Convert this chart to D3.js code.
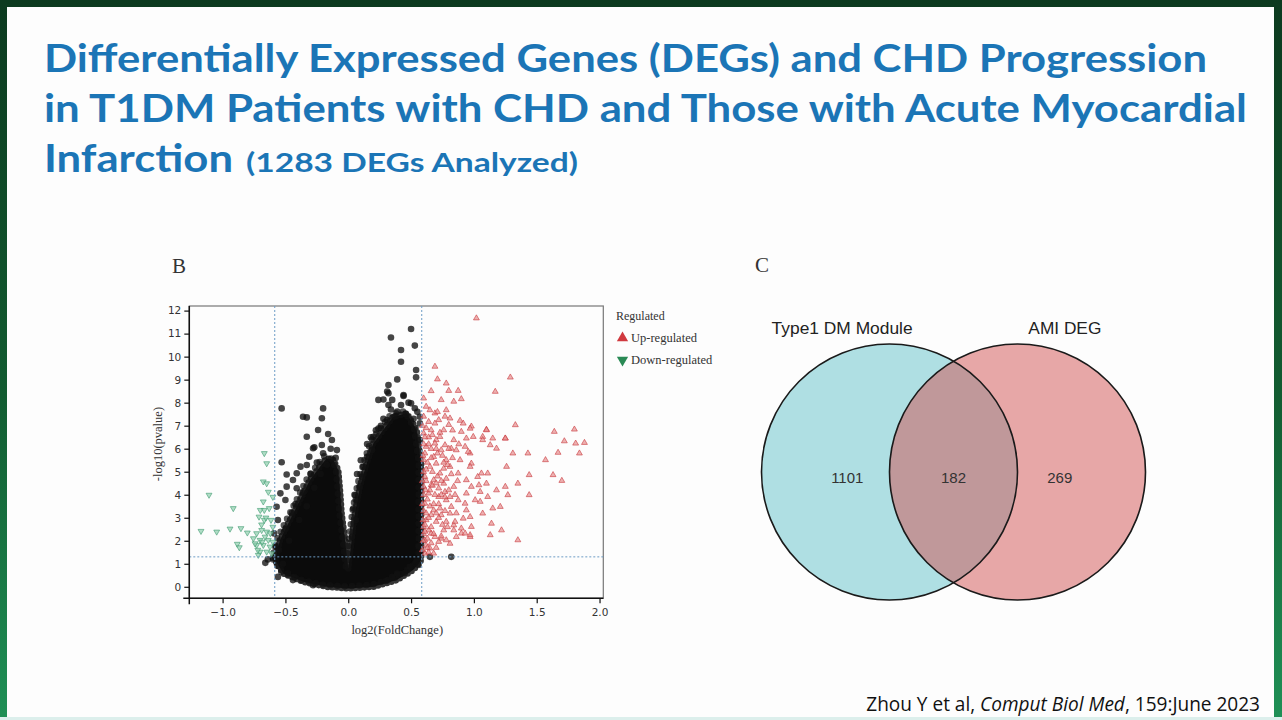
<!DOCTYPE html>
<html>
<head>
<meta charset="utf-8">
<script src="https://cdn.jsdelivr.net/npm/d3@7"></script>
<style>
  body { margin: 0; background: #fff; }
  svg { display: block; }
</style>
</head>
<body>
<svg id="slide" width="1282" height="720"></svg>
<script>
// ---- data ----
var titleLines = [
  "Differentially Expressed Genes (DEGs) and CHD Progression",
  "in T1DM Patients with CHD and Those with Acute Myocardial",
  "Infarction"
];
var titleNote = "(1283 DEGs Analyzed)";

var xTicks = [-1.0, -0.5, 0.0, 0.5, 1.0, 1.5, 2.0];
var yTicks = [0, 1, 2, 3, 4, 5, 6, 7, 8, 9, 10, 11, 12];
var fcCut = 0.585,   // log2(1.5)
    pCut = 1.3;      // -log10(0.05)

// dense non-significant core (log2FC, -log10 p)
var blackCore = [[0.00,0.80],[-0.026,2.03],[-0.053,3.19],[-0.066,4.20],[-0.080,5.07],[-0.119,5.51],
  [-0.172,5.58],[-0.225,5.22],[-0.305,4.64],[-0.384,3.77],[-0.464,2.90],[-0.543,2.03],[-0.583,1.16],
  [-0.517,0.58],[-0.358,0.22],[-0.172,0.0],[0.0,-0.07],[0.199,0.0],[0.385,0.29],[0.517,0.73],
  [0.58,1.16],[0.58,3.19],[0.58,5.36],[0.544,6.81],[0.465,7.54],[0.358,7.39],[0.278,6.81],
  [0.199,6.23],[0.146,5.36],[0.093,4.35],[0.053,3.19],[0.027,2.03],[0.008,1.16]];

var blackPts = [[0.50,11.20],[0.34,10.83],[0.53,10.48],[0.42,10.29],[0.42,9.78],[0.54,9.42],[0.54,9.10],
  [0.39,9.01],[0.32,8.77],[0.31,8.48],[0.24,8.12],[0.28,8.14],[0.44,8.29],[0.32,8.41],[0.35,8.12],
  [0.44,8.33],[0.32,7.90],[0.39,7.61],[0.50,7.97],[0.53,7.76],[0.31,7.25],[0.24,6.88],[0.20,6.52],
  [0.15,5.65],[0.19,5.94],[0.11,4.78],[0.09,4.35],[0.12,5.22],[0.06,3.77],[0.06,2.90],[0.03,2.17],
  [0.57,7.39],[0.57,6.38],
  [-0.53,7.75],[-0.20,7.75],[-0.21,7.32],[-0.36,7.39],[-0.33,7.36],[-0.24,6.81],[-0.33,6.52],
  [-0.16,6.64],[-0.13,6.38],[-0.28,6.02],[-0.21,6.16],[-0.09,5.94],[-0.31,5.65],[-0.27,6.06],
  [-0.53,5.41],[-0.38,5.22],[-0.33,5.29],[-0.49,4.88],[-0.41,4.93],[-0.44,4.64],[-0.49,4.35],
  [-0.54,4.06],[-0.41,4.28],[-0.57,3.48],[-0.50,3.77],[-0.56,2.90],[-0.59,2.32],[-0.58,1.74],
  [-0.66,1.04],[-0.64,1.19],[-0.60,1.25],[-0.56,0.43],[-0.44,0.29],[-0.28,0.07],
  [0.65,1.30],[0.82,1.30],[0.53,1.01],[0.39,0.51],[0.35,0.43],[0.39,0.58],[0.49,0.87],[0.54,1.09],
  [0.57,1.45],[0.56,1.74],
  [-0.45,3.2],[-0.50,2.5],[-0.42,3.6],[-0.36,4.1],[-0.30,4.9],[-0.25,5.4],[-0.20,5.8],[-0.14,6.0],
  [-0.55,1.6],[-0.52,1.0],[-0.48,0.6],[-0.47,2.0],[-0.39,2.9],[-0.33,3.5],[-0.27,4.3],[-0.22,4.9],
  [-0.17,5.3],[-0.10,5.6],
  [0.15,6.2],[0.22,6.8],[0.28,7.3],[0.34,7.7],[0.42,7.9],[0.48,8.0],[0.55,7.6],[0.57,7.1],[0.10,5.5],
  [0.07,4.9],[0.05,4.0],[0.04,3.4],[0.58,2.0],[0.56,0.95],[0.45,0.6],[0.30,0.25],[0.18,6.5],
  [0.26,7.0],[0.37,7.4],[0.46,7.5],[0.52,7.3]];

var upPts = [[1.02,11.67],[0.69,9.57],[0.71,9.02],[1.29,9.10],[0.78,8.84],[0.66,8.51],[0.80,8.52],
  [0.875,8.52],[1.17,8.48],[0.90,8.16],[0.74,8.12],[0.84,8.05],[0.60,8.19],[0.78,7.68],[0.69,7.54],
  [0.62,7.83],[0.89,7.22],[0.98,6.97],[0.80,7.04],[1.33,7.03],[1.10,6.83],[1.15,6.45],[1.25,6.45],
  [1.64,6.74],[1.80,6.84],[1.72,6.33],[1.88,6.26],[1.81,6.23],[1.84,5.80],[1.67,5.83],[1.57,5.51],
  [1.43,5.80],[1.31,5.80],[1.26,5.22],[1.44,4.86],[1.63,4.86],[1.70,4.61],[1.35,4.49],[1.25,4.35],
  [1.27,3.99],[1.44,3.99],[1.35,2.03],[1.13,2.25],[1.22,2.46],[1.14,2.75],[1.07,3.19],[1.15,3.41],
  [1.05,3.70],[1.18,4.20],[1.10,4.49],[1.03,4.78],[1.11,4.93],[1.13,6.16],[1.07,6.52],[1.25,6.45],
  [1.18,6.01],[0.97,6.88],[1.10,6.81],[0.98,5.36],[0.97,5.80],[0.93,3.62],[0.97,3.04],[0.90,2.32],
  [0.97,2.17],[0.84,2.68],[0.81,1.88],[0.74,2.10],[0.68,1.45],
  [1.06,4.93],[1.04,4.42],[1.11,3.91],[1.01,3.77],[1.05,4.13],[1.21,3.48],[0.915,7.10],
  [0.97,5.22],[0.955,5.87],[0.93,6.09],[1.07,6.38],[0.995,6.52],[0.94,6.45],[0.90,6.74],[0.84,6.38],
  [0.86,5.94],[0.89,5.51],[0.81,5.22],[0.875,4.93],[0.94,4.64],[0.98,4.35],[0.94,4.06],[0.875,3.77],
  [0.94,3.33],[0.915,2.97],[0.85,2.83],[0.98,2.61],[0.93,2.32],[0.86,2.17],[0.97,2.25],[0.90,2.54],
  [0.81,3.19],[0.78,3.77],[0.84,4.35],[0.76,4.49],[0.73,4.93],[0.78,5.51],[0.74,5.94],[0.70,6.38],
  [0.66,6.81],[0.76,6.81],[0.72,7.25],[0.64,7.17],[0.81,7.32],[0.68,5.65],[0.62,6.09],[0.65,5.22],
  [0.61,4.78],[0.68,4.64],[0.64,4.06],[0.72,3.91],[0.61,3.62],[0.68,3.33],[0.62,2.90],[0.70,2.83],
  [0.76,2.46],[0.66,2.32],[0.61,2.03],[0.72,1.96],[0.65,1.67],[0.61,1.45],[0.78,2.03],[0.84,2.46],
  [0.73,3.41],[0.78,2.83],[0.60,6.67],[0.60,5.51],[0.60,4.35],[0.60,2.61],[0.69,6.23],[0.65,7.68],
  [0.73,6.52],[0.77,6.16],[0.82,6.01],[0.70,5.36],[0.76,5.14],[0.66,4.42],[0.72,4.28],[0.77,4.13],
  [0.81,3.91],[0.82,3.48],[0.66,3.12],[0.74,3.12],[0.64,2.46],[0.69,2.17],
  [0.60,7.4],[0.62,6.9],[0.64,6.5],[0.60,6.2],[0.66,6.0],[0.61,5.8],[0.63,5.4],[0.67,5.0],[0.60,5.0],
  [0.62,4.6],[0.65,4.2],[0.60,4.0],[0.63,3.8],[0.68,3.6],[0.60,3.3],[0.64,3.0],[0.61,2.7],[0.66,2.6],
  [0.60,2.3],[0.63,2.1],[0.62,1.8],[0.66,1.9],[0.70,4.5],[0.72,3.0],[0.71,5.8],[0.73,6.7],[0.69,7.1],
  [0.74,4.0],[0.68,2.3],[0.70,1.7],[0.64,1.5],[0.76,5.4],[0.78,4.7],[0.72,3.6],[0.80,6.0],[0.77,3.3],
  [0.79,2.6],[0.74,2.2],[0.82,4.9],[0.85,4.0],
  [0.59,7.0],[0.61,6.5],[0.595,5.7],[0.62,5.1],[0.59,4.6],[0.615,4.2],[0.59,3.6],[0.62,3.2],[0.595,2.9],
  [0.61,2.4],[0.595,2.0],[0.63,1.7],[0.59,1.6],[0.65,3.5],[0.67,4.4],[0.66,5.6],[0.64,6.2],[0.67,6.6],
  [0.70,3.2],[0.69,4.0],[0.71,4.8],[0.70,6.0],[0.75,5.7],[0.74,4.6],[0.77,3.9],[0.75,2.7],[0.80,4.2],
  [0.79,5.3],[0.83,5.6],[0.87,4.6],[0.86,3.2],[0.88,6.2],[0.83,6.8],[0.77,7.4],[0.71,7.6]];

var downPts = [[-0.668,5.80],[-0.649,5.36],[-1.108,3.99],[-0.915,3.41],[-1.172,2.42],[-1.047,2.39],
  [-0.941,2.52],[-0.854,2.54],[-0.803,2.35],[-0.883,1.86],[-0.867,1.71],
  [-0.676,4.57],[-0.649,4.49],[-0.636,4.12],[-0.676,3.70],[-0.70,3.33],[-0.668,3.33],[-0.629,3.41],
  [-0.71,3.04],[-0.668,2.90],[-0.615,2.90],[-0.689,2.46],[-0.729,2.32],[-0.649,2.39],[-0.755,2.10],
  [-0.702,2.03],[-0.636,2.03],[-0.729,1.81],[-0.676,1.81],[-0.623,1.74],[-0.702,1.52],[-0.649,1.52],
  [-0.716,1.38],[-0.61,1.45],[-0.742,1.88],[-0.662,2.17],[-0.62,2.32],
  [-0.60,3.9],[-0.655,3.0],[-0.69,2.7],[-0.60,2.6],[-0.72,1.6],[-0.60,1.95],[-0.685,1.95]];

var legendItems = ["Up-regulated", "Down-regulated"];

// venn: set names and region counts (left only, shared, right only)
var vennSets = ["Type1 DM Module", "AMI DEG"];
var vennCounts = [1101, 182, 269];

var citeParts = [["Zhou Y et al, ", "normal"], ["Comput Biol Med", "italic"], [", 159:June 2023", "normal"]];

// ---- slide frame ----
var svg = d3.select("#slide");
var defs = svg.append("defs");
var grad = defs.append("linearGradient").attr("id", "frame")
    .attr("x1", 0).attr("y1", 0).attr("x2", 0).attr("y2", 1);
grad.append("stop").attr("offset", "0%").attr("stop-color", "#0c3a1f");
grad.append("stop").attr("offset", "55%").attr("stop-color", "#125c31");
grad.append("stop").attr("offset", "100%").attr("stop-color", "#1f9056");

svg.append("rect").attr("width", 1282).attr("height", 720).attr("fill", "url(#frame)");
svg.append("rect").attr("x", 7).attr("y", 7).attr("width", 1267).attr("height", 713).attr("fill", "#fdfdfd");
svg.append("rect").attr("x", 0).attr("y", 717).attr("width", 1282).attr("height", 3).attr("fill", "#dcefec");

// ---- title ----
var titleFont = "Lato, 'Open Sans', sans-serif";
var titleW = [1163, 1203, 189];
titleLines.forEach(function(t, i) {
  svg.append("text")
    .attr("x", 44).attr("y", 72 + i * 50)
    .attr("font-family", titleFont).attr("font-weight", 700)
    .attr("font-size", 39).attr("fill", "#1b75b6")
    .attr("textLength", titleW[i]).attr("lengthAdjust", "spacingAndGlyphs")
    .text(t);
});
svg.append("text")
  .attr("x", 246).attr("y", 172)
  .attr("font-family", titleFont).attr("font-weight", 700)
  .attr("font-size", 27).attr("fill", "#1b75b6")
  .attr("textLength", 332).attr("lengthAdjust", "spacingAndGlyphs")
  .text(titleNote);

// ---- panel B: volcano ----
var vw = 414, vh = 292.3;
var gB = svg.append("g").attr("transform", "translate(189.3,306)");

var x = d3.scaleLinear().domain([-1.265, 2.03]).range([0, vw]);
var y = d3.scaleLinear().domain([-0.5, 12.2]).range([vh, 0]);

defs.append("clipPath").attr("id", "plotclip")
  .append("rect").attr("width", vw).attr("height", vh);

gB.append("rect").attr("width", vw).attr("height", vh)
  .attr("fill", "none").attr("stroke", "#777").attr("stroke-width", 1.2);

var plot = gB.append("g").attr("clip-path", "url(#plotclip)");

var coreLine = d3.line().x(function(d) { return x(d[0]); }).y(function(d) { return y(d[1]); })
  .curve(d3.curveLinearClosed);
plot.append("path")
  .datum(blackCore)
  .attr("d", coreLine)
  .attr("fill", "#0b0b0b");
// dotted outline so the edge of the dense core reads as overlapping points
plot.append("path")
  .datum(blackCore)
  .attr("d", coreLine)
  .attr("fill", "none").attr("stroke", "#111").attr("stroke-opacity", 0.85)
  .attr("stroke-width", 6.6).attr("stroke-linecap", "round").attr("stroke-dasharray", "0 4.6");
plot.append("path")
  .datum(blackCore)
  .attr("d", coreLine)
  .attr("fill", "none").attr("stroke", "#111").attr("stroke-opacity", 0.7)
  .attr("stroke-width", 6.6).attr("stroke-linecap", "round").attr("stroke-dasharray", "0 7.3")
  .attr("transform", "translate(-2.5,-2)");

plot.selectAll("circle.ns")
  .data(blackPts).enter().append("circle")
  .attr("class", "ns")
  .attr("cx", function(d) { return x(d[0]); })
  .attr("cy", function(d) { return y(d[1]); })
  .attr("r", 3.3)
  .attr("fill", "#111").attr("fill-opacity", 0.78);

var tri = d3.symbol(d3.symbolTriangle, 15);
plot.selectAll("path.up")
  .data(upPts).enter().append("path")
  .attr("class", "up")
  .attr("d", tri)
  .attr("transform", function(d) { return "translate(" + x(d[0]) + "," + y(d[1]) + ")"; })
  .attr("fill", "#e58f8f").attr("fill-opacity", 0.7)
  .attr("stroke", "#c9383c").attr("stroke-width", 0.7).attr("stroke-opacity", 0.85);

plot.selectAll("path.down")
  .data(downPts).enter().append("path")
  .attr("class", "down")
  .attr("d", tri)
  .attr("transform", function(d) { return "translate(" + x(d[0]) + "," + y(d[1]) + ") rotate(180)"; })
  .attr("fill", "#8fcfae").attr("fill-opacity", 0.7)
  .attr("stroke", "#3e9a70").attr("stroke-width", 0.7).attr("stroke-opacity", 0.85);

// cut-off lines
[-fcCut, fcCut].forEach(function(v) {
  gB.append("line")
    .attr("x1", x(v)).attr("x2", x(v)).attr("y1", 0).attr("y2", vh)
    .attr("stroke", "#6d9cc6").attr("stroke-width", 1).attr("stroke-dasharray", "2,2");
});
gB.append("line")
  .attr("x1", 0).attr("x2", vw).attr("y1", y(pCut)).attr("y2", y(pCut))
  .attr("stroke", "#6d9cc6").attr("stroke-width", 1).attr("stroke-dasharray", "2,2");

// axes
var xAxis = gB.append("g").attr("transform", "translate(0," + vh + ")")
  .call(d3.axisBottom(x).tickValues(xTicks).tickFormat(d3.format(".1f")).tickSize(5).tickSizeOuter(0));
xAxis.select(".domain").attr("d", "M-6,0H" + vw);
var yAxis = gB.append("g")
  .call(d3.axisLeft(y).tickValues(yTicks).tickSize(5).tickSizeOuter(0));
yAxis.select(".domain").attr("d", "M0,0V" + (vh + 6));

gB.selectAll(".domain").attr("stroke", "#111").attr("stroke-width", 1.5);
gB.selectAll(".tick line").attr("stroke", "#111").attr("stroke-width", 1.2);
gB.selectAll(".tick text").attr("font-family", "'DejaVu Sans', sans-serif")
  .attr("font-size", 10.5).attr("fill", "#333");
xAxis.selectAll(".tick text").attr("dy", "0.9em");

gB.append("text")
  .attr("x", x(0.39)).attr("y", vh + 36)
  .attr("text-anchor", "middle")
  .attr("font-family", "'Liberation Serif', serif").attr("font-size", 12.5).attr("fill", "#333")
  .text("log2(FoldChange)");
gB.append("text")
  .attr("transform", "translate(-27," + y(6.2) + ") rotate(-90)")
  .attr("text-anchor", "middle")
  .attr("font-family", "'Liberation Serif', serif").attr("font-size", 12.5).attr("fill", "#333")
  .text("-log10(pvalue)");

// legend
var leg = svg.append("g").attr("transform", "translate(616,320)");
leg.append("text").attr("x", 0).attr("y", 0)
  .attr("font-family", "'Liberation Serif', serif").attr("font-size", 12).attr("fill", "#333")
  .text("Regulated");
var legTri = d3.symbol(d3.symbolTriangle, 55);
legendItems.forEach(function(t, i) {
  var gy = 18 + i * 22;
  leg.append("path").attr("d", legTri)
    .attr("transform", "translate(6.5," + gy + ")" + (i ? " rotate(180)" : ""))
    .attr("fill", i ? "#2a8a55" : "#d0393f");
  leg.append("text").attr("x", 15).attr("y", gy + 4)
    .attr("font-family", "'Liberation Serif', serif").attr("font-size", 12.5).attr("fill", "#333")
    .text(t);
});

svg.append("text").attr("x", 172).attr("y", 273)
  .attr("font-family", "'Liberation Serif', serif").attr("font-size", 21).attr("fill", "#333")
  .text("B");

// ---- panel C: venn ----
svg.append("text").attr("x", 755).attr("y", 272)
  .attr("font-family", "'Liberation Serif', serif").attr("font-size", 21).attr("fill", "#333")
  .text("C");

var vx = d3.scaleLinear().domain([-1, 1]).range([953.5 - 128, 953.5 + 128]);
var vy = d3.scaleLinear().domain([-1, 1]).range([472 - 128, 472 + 128]);
var vennFill = ["#61c1c9", "#d15151"];
var centers = [-0.5, 0.5];

var gC = svg.append("g");
gC.selectAll("circle.set")
  .data(vennSets).enter().append("circle")
  .attr("class", "set")
  .attr("cx", function(d, i) { return vx(centers[i]); })
  .attr("cy", vy(0))
  .attr("r", vx(1) - vx(0))
  .attr("fill", function(d, i) { return vennFill[i]; })
  .attr("fill-opacity", 0.5);
gC.selectAll("circle.edge")
  .data(vennSets).enter().append("circle")
  .attr("class", "edge")
  .attr("cx", function(d, i) { return vx(centers[i]); })
  .attr("cy", vy(0))
  .attr("r", vx(1) - vx(0))
  .attr("fill", "none").attr("stroke", "#1a1a1a").attr("stroke-width", 1.6);

var setW = [141, 73];
gC.selectAll("text.setname")
  .data(vennSets).enter().append("text")
  .attr("class", "setname")
  .attr("x", function(d, i) { return vx(centers[i] + (i ? 0.37 : -0.37)); })
  .attr("y", vy(-1.075))
  .attr("text-anchor", "middle")
  .attr("font-family", "'Liberation Sans', Arial, sans-serif").attr("font-size", 16.5).attr("fill", "#222")
  .attr("textLength", function(d, i) { return setW[i]; })
  .attr("lengthAdjust", "spacingAndGlyphs")
  .text(function(d) { return d; });

var regionX = [centers[0] - 0.33, 0, centers[1] + 0.33];
gC.selectAll("text.count")
  .data(vennCounts).enter().append("text")
  .attr("class", "count")
  .attr("x", function(d, i) { return vx(regionX[i]); })
  .attr("y", vy(0) + 10.5)
  .attr("text-anchor", "middle")
  .attr("font-family", "'Liberation Sans', Arial, sans-serif").attr("font-size", 15).attr("fill", "#333")
  .text(function(d) { return d; });

// ---- citation ----
var cite = svg.append("text").attr("x", 1260).attr("y", 711)
  .attr("text-anchor", "end")
  .attr("font-family", "'Open Sans', sans-serif").attr("font-size", 16.5).attr("fill", "#111");
cite.selectAll("tspan").data(citeParts).enter().append("tspan")
  .attr("font-style", function(d) { return d[1]; })
  .text(function(d) { return d[0]; });
var cw = cite.node().getComputedTextLength();
cite.attr("font-size", 16.5 * 394 / cw);
</script>
</body>
</html>
